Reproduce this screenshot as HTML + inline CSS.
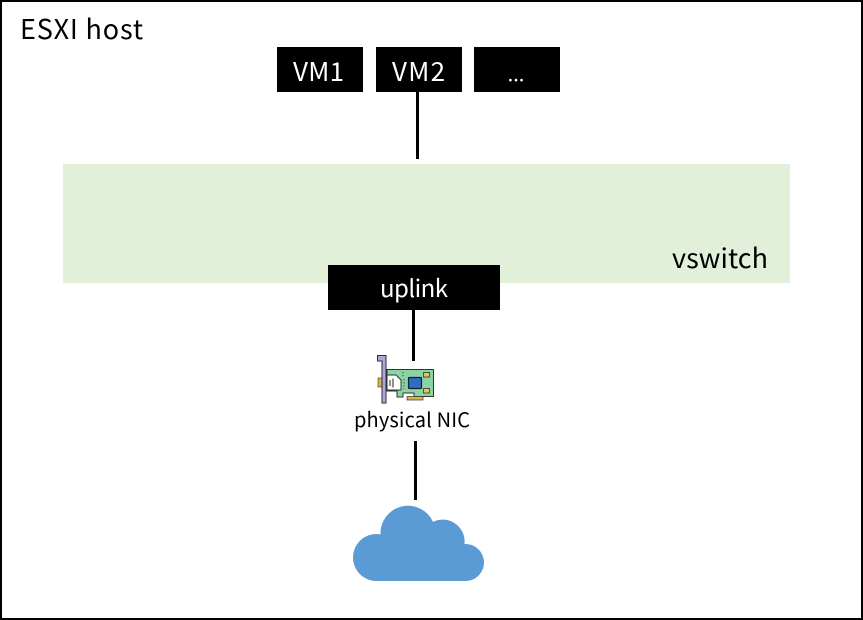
<!DOCTYPE html>
<html>
<head>
<meta charset="utf-8">
<style>
html,body{margin:0;padding:0;background:#fff;width:863px;height:620px;overflow:hidden}
svg{display:block}
text{font-family:"Noto Sans CJK KR","Liberation Sans",sans-serif}
</style>
</head>
<body>
<svg width="863" height="620" viewBox="0 0 863 620" xmlns="http://www.w3.org/2000/svg">
<rect x="1" y="1" width="861" height="618" fill="#fff" stroke="#000" stroke-width="2"/>
<text x="20" y="39" font-size="27" fill="#000" textLength="123" lengthAdjust="spacing">ESXI host</text>

<rect x="277" y="47" width="86" height="45" fill="#000"/>
<rect x="376" y="47" width="86" height="45" fill="#000"/>
<rect x="474" y="47" width="86" height="45" fill="#000"/>
<text x="293" y="81" font-size="26" fill="#fff" textLength="51" lengthAdjust="spacing">VM1</text>
<text x="392" y="81" font-size="26" fill="#fff" textLength="53" lengthAdjust="spacing">VM2</text>
<text x="516" y="81" font-size="20" fill="#fff" text-anchor="middle">...</text>

<rect x="416" y="92" width="3" height="67" fill="#000"/>

<rect x="63" y="164" width="727" height="119" fill="#e2f0d9"/>
<text x="672" y="268" font-size="27" fill="#000" textLength="96" lengthAdjust="spacing">vswitch</text>

<rect x="328" y="265" width="172" height="45" fill="#000"/>
<text x="380" y="297" font-size="24" fill="#fff" textLength="68" lengthAdjust="spacing">uplink</text>

<rect x="412" y="310" width="3" height="51" fill="#000"/>

<!-- NIC -->
<rect x="378" y="378" width="4" height="9" fill="#d9b648" stroke="#333" stroke-width="0.6"/>
<path d="M377.5 355.5H386V403H382V361H377.5Z" fill="#b3a6d6" stroke="#2c2c3c" stroke-width="1"/>
<path d="M387 369.500H433.500V396.500H414V393H403V397H397V391H387Z" fill="#8bd3a4" stroke="#2a3a32" stroke-width="1"/>
<path d="M387 375H396L401 380V390H387Z" fill="#fff" stroke="#2a3a32" stroke-width="1"/>
<path d="M390 380V386M393 378.500V387.500" stroke="#222" stroke-width="1" fill="none"/>
<rect x="408.500" y="377.500" width="13" height="11" rx="1" fill="#2f6bbf" stroke="#123" stroke-width="1.200"/>
<rect x="423.500" y="372.500" width="6" height="4.500" fill="#e3c45a" stroke="#333" stroke-width="0.8"/>
<rect x="423.500" y="388.500" width="6" height="4.500" fill="#e3c45a" stroke="#333" stroke-width="0.8"/>
<rect x="407" y="396.500" width="16" height="3.500" fill="#d9b648" stroke="#333" stroke-width="0.7"/>
<path d="M403 372V376M404 379V389" stroke="#2a3a32" stroke-width="0.8" stroke-dasharray="1.500 1.500" fill="none"/>

<text x="354" y="427" font-size="20" fill="#000" textLength="116" lengthAdjust="spacing">physical NIC</text>

<rect x="414" y="441" width="3" height="59" fill="#000"/>

<!-- cloud -->
<path d="M376.500 581A23.500 23.500 0 0 1 376.500 534Q378.500 534 380.500 534.500A27.500 27.500 0 0 1 433 521.800A22 22 0 0 1 464.500 544A18.500 18.500 0 0 1 466.500 581Z" fill="#5b9bd5"/>
</svg>
</body>
</html>
